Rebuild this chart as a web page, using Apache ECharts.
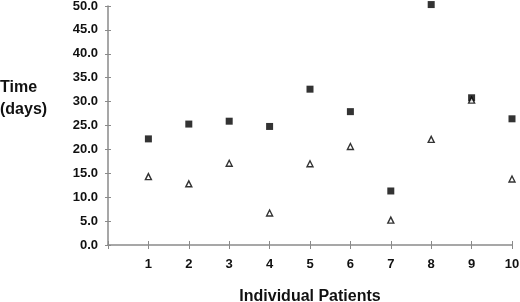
<!DOCTYPE html>
<html>
<head>
<meta charset="utf-8">
<script src="https://cdn.jsdelivr.net/npm/echarts@6/dist/echarts.min.js"></script>
<style>
  html, body { margin: 0; padding: 0; background: #fff; }
  #chart { width: 520px; height: 302px; }
</style>
</head>
<body>
<div id="chart"></div>
<script>
const patients = [1, 2, 3, 4, 5, 6, 7, 8, 9, 10];
const squareValues = [22.2, 25.3, 25.9, 24.8, 32.6, 27.9, 11.3, 50.3, 30.8, 26.4];
const triangleValues = [14.3, 12.8, 17.1, 6.7, 17.0, 20.6, 5.2, 22.1, 30.3, 13.8];
const yTicks = [0, 5, 10, 15, 20, 25, 30, 35, 40, 45, 50];

const chart = echarts.init(document.getElementById('chart'));
const font = '"Liberation Sans", Arial, sans-serif';
const axisGray = '#8a8a8a';
const labelStyle = { fontFamily: font, fontWeight: 'bold', fontSize: 13, color: '#111' };

// second copy of each axis draws the inner half of the crossing ticks
const xBase = {
    type: 'value', min: 0, max: 10, interval: 1,
    splitLine: { show: false }
};
const yBase = {
    type: 'value', min: yTicks[0], max: yTicks[yTicks.length - 1], interval: 5,
    splitLine: { show: false }
};

chart.setOption({
    animation: false,
    grid: { left: 108, right: 8, top: 6, bottom: 57, outerBoundsMode: 'none' },
    xAxis: [{
        ...xBase,
        name: 'Individual Patients',
        nameLocation: 'middle',
        nameGap: 44,
        nameTextStyle: { fontFamily: font, fontWeight: 'bold', fontSize: 16, color: '#111' },
        axisLine: { lineStyle: { color: axisGray, width: 1.5 } },
        axisTick: { show: true, length: 4, lineStyle: { color: axisGray } },
        axisLabel: {
            ...labelStyle,
            margin: 13,
            formatter: v => (patients.includes(v) ? String(v) : '')
        }
    }, {
        ...xBase,
        position: 'bottom',
        axisLine: { show: false },
        axisTick: { show: true, inside: true, length: 4, lineStyle: { color: axisGray } },
        axisLabel: { show: false }
    }],
    yAxis: [{
        ...yBase,
        axisLine: { show: true, lineStyle: { color: axisGray, width: 1.5 } },
        axisTick: { show: true, length: 3, lineStyle: { color: axisGray } },
        axisLabel: {
            ...labelStyle,
            margin: 10,
            formatter: v => v.toFixed(1)
        }
    }, {
        ...yBase,
        position: 'left',
        axisLine: { show: false },
        axisTick: { show: true, inside: true, length: 3, lineStyle: { color: axisGray } },
        axisLabel: { show: false }
    }],
    graphic: [{
        type: 'text',
        left: 0,
        top: 77,
        style: {
            text: 'Time\n(days)',
            font: 'bold 16px ' + font,
            fill: '#111',
            align: 'center',
            lineHeight: 22,
            x: 27
        }
    }],
    series: [
        {
            type: 'scatter',
            symbol: 'rect',
            symbolSize: 7,
            clip: false,
            itemStyle: { color: '#000' },
            data: patients.map((p, i) => [p, squareValues[i]])
        },
        {
            type: 'scatter',
            symbol: 'triangle',
            symbolSize: 6,
            clip: false,
            itemStyle: { color: '#fff', borderColor: '#000', borderWidth: 1.4 },
            data: patients.map((p, i) => [p, triangleValues[i]])
        }
    ]
});
</script>
</body>
</html>
